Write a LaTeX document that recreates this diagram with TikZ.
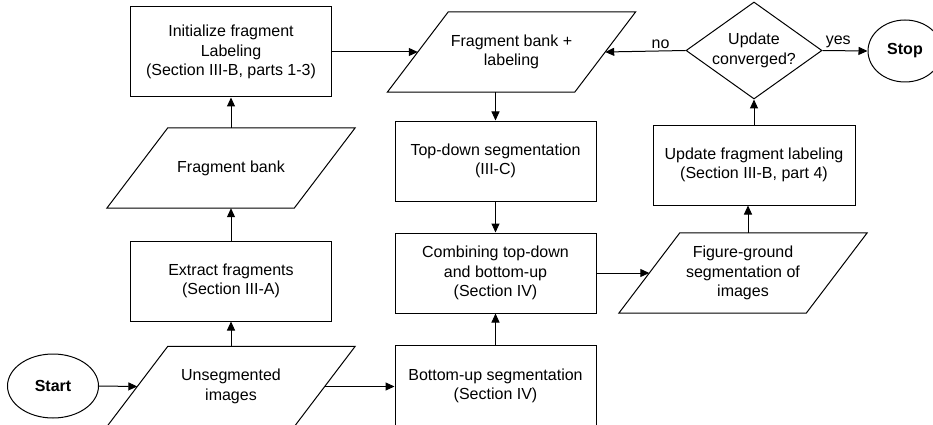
\documentclass[tikz,border=0pt]{standalone}
\usepackage{fontspec}
\setmainfont{Liberation Sans}
\usetikzlibrary{shapes.geometric,arrows.meta}

% outline of an input/output parallelogram around a named text node
\newcommand\drawio[1]{%
  \draw[ioline] ([xshift=30.5pt]#1.north west) -- ([xshift=30.5pt]#1.north east)
    -- ([xshift=-30.5pt]#1.south east) -- ([xshift=-30.5pt]#1.south west) -- cycle;}

\tikzset{
  base/.style={font=\fontsize{16}{19.3}\selectfont, align=center, inner sep=0pt},
  procbox/.style={base, draw, line width=1pt, minimum width=201pt, minimum height=80pt},
  iobox/.style={base, minimum width=187pt, minimum height=80pt},
  ioline/.style={line width=1pt, line join=miter},
  terminal/.style={base, draw, line width=1pt, ellipse,
    font=\fontsize{16}{19.3}\selectfont\bfseries},
  decision/.style={base, draw, line width=1pt, diamond, aspect=1.4,
    minimum width=136pt, minimum height=97pt},
  flow/.style={-{Triangle[length=9pt,width=8pt]}, line width=1pt},
  edgelabel/.style={font=\fontsize{16}{19.3}\selectfont, inner sep=2pt}
}

\begin{document}
\begin{tikzpicture}[x=1pt, y=-1pt]
  \clip (0,0) rectangle (933,425);
  \fill[white] (0,0) rectangle (933,425);

  % terminals
  \node[terminal, minimum width=91pt, minimum height=64pt] (start) at (53,386) {Start};
  \node[terminal, minimum width=74pt, minimum height=62pt] (stop) at (905,51) {Stop};

  % left column
  \node[iobox] (unseg) at (231,386.5) {Unsegmented\\images};
  \drawio{unseg}
  \node[procbox] (extract) at (231,281) {Extract fragments\\(Section III-A)};
  \node[iobox] (fbank) at (231,168) {Fragment bank};
  \drawio{fbank}
  \node[procbox, minimum height=90pt] (init) at (231,52)
    {Initialize fragment\\Labeling\\(Section III-B, parts 1-3)};

  % middle column
  \node[iobox] (fbl) at (511.5,52) {Fragment bank +\\labeling};
  \drawio{fbl}
  \node[procbox] (topdown) at (495.5,161) {Top-down segmentation\\(III-C)};
  \node[procbox] (combine) at (495.5,273)
    {Combining top-down\\and bottom-up\\(Section IV)};
  \node[procbox, minimum height=81pt] (bottomup) at (495.5,386)
    {Bottom-up segmentation\\(Section IV)};

  % right column
  \node[iobox] (fig) at (743,273) {Figure-ground\\segmentation of\\images};
  \drawio{fig}
  \node[procbox, minimum width=202pt] (update) at (754,165)
    {Update fragment labeling\\(Section III-B, part 4)};
  \node[decision] (dia) at (754,50.5) {Update\\converged?};

  % connectors
  \draw[flow] (start.east) -- (unseg.west);
  \draw[flow] (unseg.north) -- (extract.south);
  \draw[flow] (extract.north) -- (fbank.south);
  \draw[flow] (fbank.north) -- (init.south);
  \draw[flow] (init.east) -- (fbl.west);
  \draw[flow] (topdown.north |- fbl.south) -- (topdown.north);
  \draw[flow] (topdown.south) -- (combine.north);
  \draw[flow] (unseg.east) -- (unseg.east -| bottomup.west);
  \draw[flow] (bottomup.north) -- (combine.south);
  \draw[flow] (combine.east) -- (fig.west);
  \draw[flow] ([xshift=5pt]fig.north) -- ([xshift=5pt]fig.north |- update.south);
  \draw[flow] (update.north) -- (dia.south);
  \draw[flow] (dia.west) -- node[edgelabel, above, pos=0.31] {no} (fbl.east);
  \draw[flow] (dia.east) -- node[edgelabel, above, pos=0.35] {yes} (stop.west);
\end{tikzpicture}
\end{document}
